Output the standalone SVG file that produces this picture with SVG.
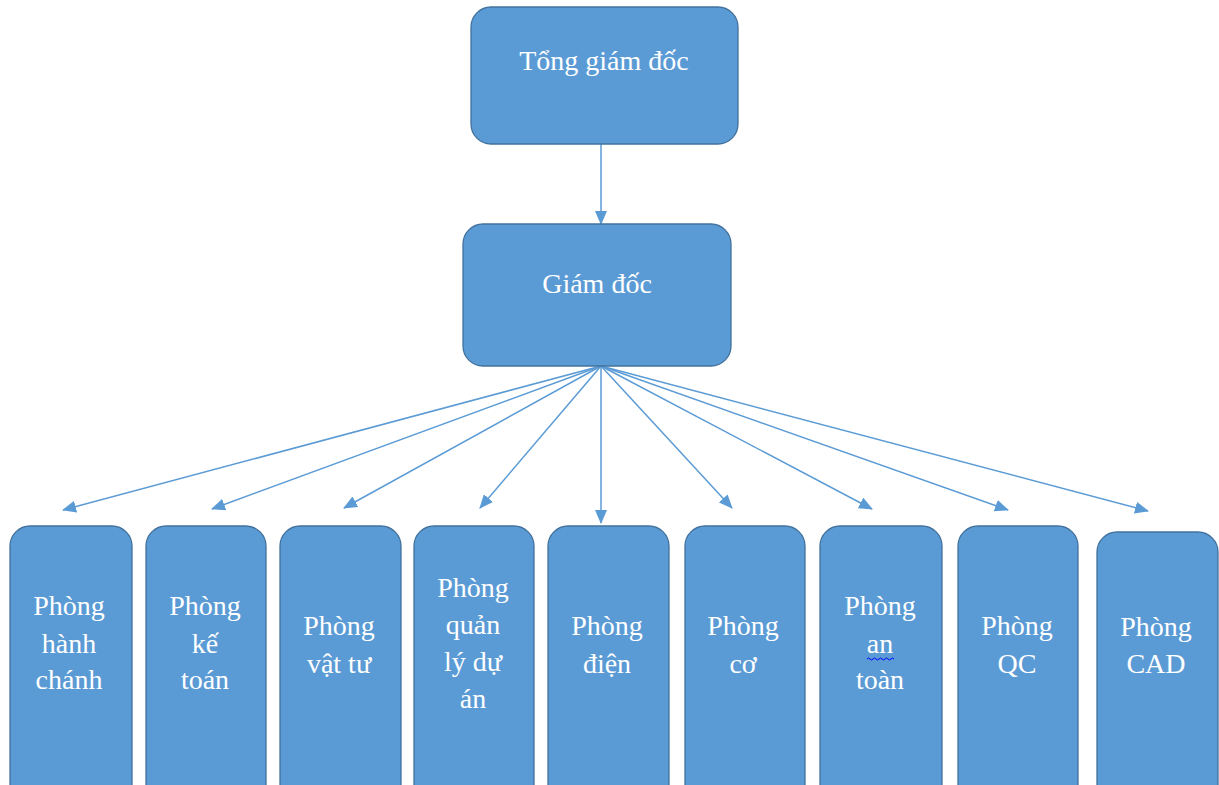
<svg xmlns="http://www.w3.org/2000/svg" width="1219" height="785" viewBox="0 0 1219 785">
<style>
.box{fill:#5B9BD5;stroke:#41719C;stroke-width:1.3}
.t{font-family:"Liberation Serif","Times New Roman",serif;font-size:28px;fill:#ffffff;text-anchor:middle}
.c{stroke:#5B9BD5;stroke-width:1.5;fill:none;marker-end:url(#ah)}
</style>
<defs>
<marker id="ah" markerUnits="userSpaceOnUse" markerWidth="14" markerHeight="12" refX="13" refY="6" orient="auto">
<path d="M0,0 L14,6 L0,12 Z" fill="#5B9BD5"/>
</marker>
</defs>
<rect width="1219" height="785" fill="#ffffff"/>
<g id="connectors">
<line class="c" x1="601" y1="144" x2="601" y2="224"/>
<line class="c" x1="601" y1="366" x2="63" y2="510"/>
<line class="c" x1="601" y1="366" x2="212" y2="509"/>
<line class="c" x1="601" y1="366" x2="344" y2="508"/>
<line class="c" x1="601" y1="366" x2="480" y2="508"/>
<line class="c" x1="601" y1="366" x2="601" y2="523"/>
<line class="c" x1="601" y1="366" x2="732" y2="508"/>
<line class="c" x1="601" y1="366" x2="872" y2="509"/>
<line class="c" x1="601" y1="366" x2="1008" y2="510"/>
<line class="c" x1="601" y1="366" x2="1148" y2="511"/>
</g>
<g id="tong-giam-doc">
<rect class="box" x="471" y="7" width="267" height="137" rx="20"/>
<text class="t" x="604" y="70">Tổng giám đốc</text>
</g>
<g id="giam-doc">
<rect class="box" x="463" y="224" width="268" height="142" rx="20"/>
<text class="t" x="597" y="293">Giám đốc</text>
</g>
<g id="hanh-chanh">
<rect class="box" x="10" y="526" width="122" height="280" rx="20"/>
<text class="t" x="69" y="615">Phòng</text>
<text class="t" x="69" y="653">hành</text>
<text class="t" x="69" y="689">chánh</text>
</g>
<g id="ke-toan">
<rect class="box" x="146" y="526" width="120" height="280" rx="20"/>
<text class="t" x="205" y="615">Phòng</text>
<text class="t" x="205" y="653">kế</text>
<text class="t" x="205" y="689">toán</text>
</g>
<g id="vat-tu">
<rect class="box" x="280" y="526" width="121" height="280" rx="20"/>
<text class="t" x="339" y="635">Phòng</text>
<text class="t" x="339" y="673">vật tư</text>
</g>
<g id="quan-ly-du-an">
<rect class="box" x="414" y="526" width="120" height="280" rx="20"/>
<text class="t" x="473" y="597">Phòng</text>
<text class="t" x="473" y="634">quản</text>
<text class="t" x="473" y="671">lý dự</text>
<text class="t" x="473" y="708">án</text>
</g>
<g id="dien">
<rect class="box" x="548" y="526" width="121" height="280" rx="20"/>
<text class="t" x="607" y="635">Phòng</text>
<text class="t" x="607" y="673">điện</text>
</g>
<g id="co">
<rect class="box" x="685" y="526" width="120" height="280" rx="20"/>
<text class="t" x="743" y="635">Phòng</text>
<text class="t" x="743" y="673">cơ</text>
</g>
<g id="an-toan">
<rect class="box" x="820" y="526" width="122" height="280" rx="20"/>
<text class="t" x="880" y="615">Phòng</text>
<text class="t" x="880" y="653">an</text>
<path d="M867,659 q1.5,-2 3,0 t3,0 t3,0 t3,0 t3,0 t3,0 t3,0 t3,0 t3,0" stroke="#0000FF" stroke-width="1" fill="none"/>
<text class="t" x="880" y="689">toàn</text>
</g>
<g id="qc">
<rect class="box" x="958" y="526" width="120" height="280" rx="20"/>
<text class="t" x="1017" y="635">Phòng</text>
<text class="t" x="1017" y="673">QC</text>
</g>
<g id="cad">
<rect class="box" x="1097" y="532" width="121" height="280" rx="20"/>
<text class="t" x="1156" y="636">Phòng</text>
<text class="t" x="1156" y="673">CAD</text>
</g>
</svg>
